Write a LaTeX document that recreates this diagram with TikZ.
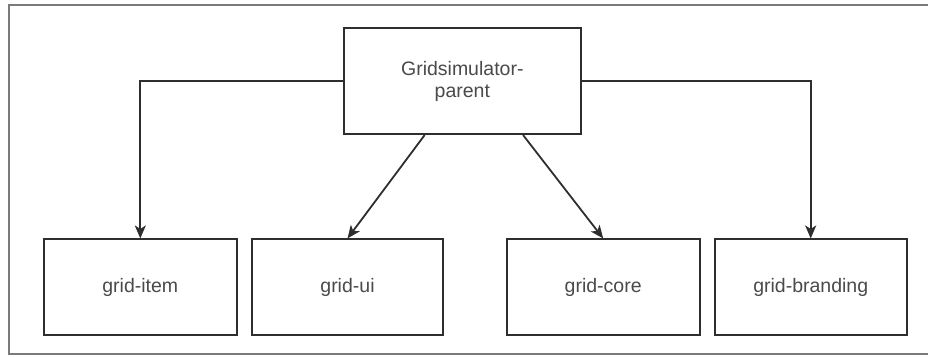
\documentclass[tikz,border=0pt]{standalone}
\usepackage{fontspec}
\setmainfont{Liberation Sans}
\usetikzlibrary{arrows.meta,calc}
\definecolor{framegray}{HTML}{7A7A7A}
\definecolor{boxline}{HTML}{2E2E2E}
\definecolor{labelgray}{HTML}{4A4A4A}
\tikzset{
  module/.style={draw=boxline, line width=1.8pt, fill=white, inner sep=0pt,
    minimum height=95.7pt, align=center, text=labelgray,
    font=\fontsize{19.5}{22}\selectfont},
  link/.style={draw=boxline, line width=1.8pt,
    -{Stealth[length=13pt, width=11pt, inset=3.5pt]}},
}
\begin{document}
\begin{tikzpicture}[x=1pt, y=-1pt]
  \useasboundingbox (0,0) rectangle (928,356);
  % open frame around the diagram
  \draw[framegray, line width=2pt] (928,5) -- (9,5) -- (9,354) -- (928,354);

  \node[module, minimum width=236.7pt, minimum height=106pt] (top) at (462.3,81.2)
    {Gridsimulator-\\parent};
  \node[module, minimum width=192.7pt] (item)     at (140.3,287.2) {grid-item};
  \node[module, minimum width=191.6pt] (ui)       at (347.5,287.2) {grid-ui};
  \node[module, minimum width=193pt]   (core)     at (603.2,287.2) {grid-core};
  \node[module, minimum width=192pt]   (branding) at (810.7,287.2) {grid-branding};

  \draw[link] (top.west) -| (item.north);
  \draw[link] (top.east) -| (branding.north);
  \draw[link] ($(top.south west)!0.342!(top.south east)$) -- (ui.north);
  \draw[link] ($(top.south west)!0.755!(top.south east)$) -- (core.north);
\end{tikzpicture}
\end{document}
